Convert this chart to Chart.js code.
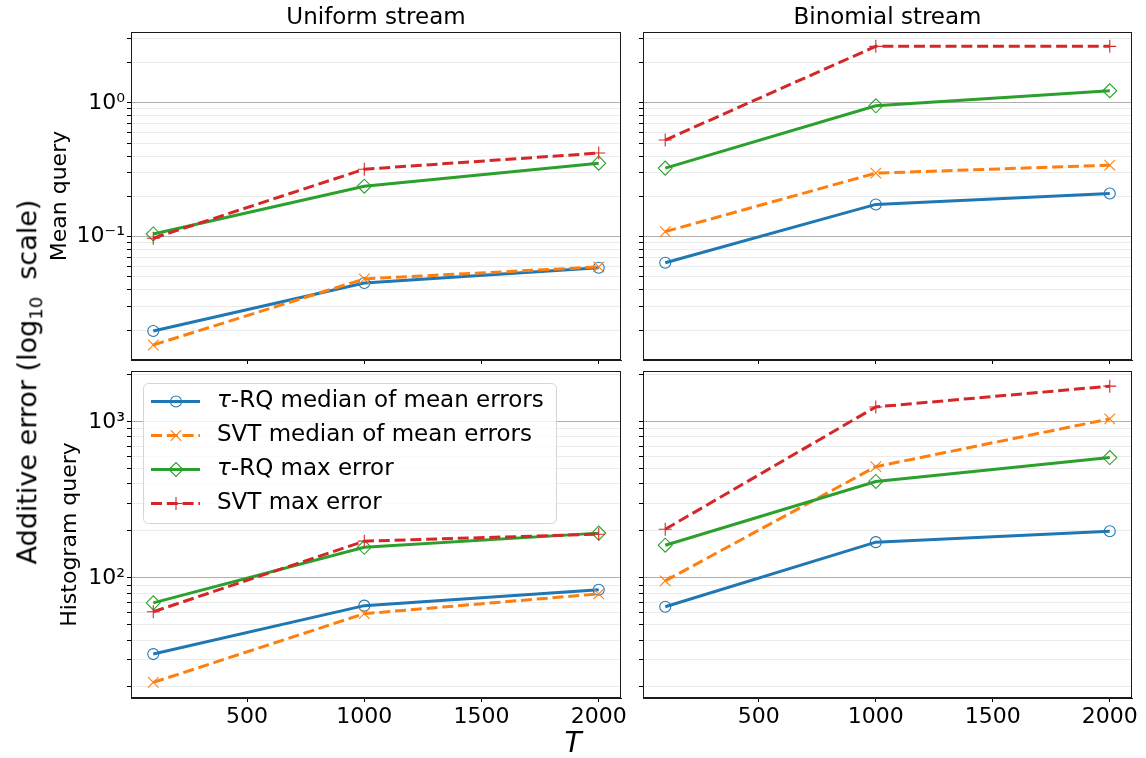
<!DOCTYPE html>
<html lang="en">
<head>
  <meta charset="UTF-8" />
  <title>Additive error vs T</title>
  <script src="https://cdn.jsdelivr.net/npm/chart.js"></script>
  <style>
    body { margin: 0; background: #fff; font-family: 'DejaVu Sans', sans-serif; }
    #fig { position: relative; width: 1146px; height: 758px; overflow: hidden; }
    .cell { position: absolute; }
    .txt { position: absolute; white-space: nowrap; color: #000; }
  </style>
</head>
<body>
  <div id="fig">
    <div class="cell" style="left:41px; top:0px; width:590px; height:370px;"><canvas id="uMean"></canvas></div>
    <div class="cell" style="left:633px; top:0px; width:513px; height:370px;"><canvas id="bMean"></canvas></div>
    <div class="cell" style="left:41px; top:351px; width:590px; height:397px;"><canvas id="uHist"></canvas></div>
    <div class="cell" style="left:633px; top:351px; width:513px; height:397px;"><canvas id="bHist"></canvas></div>
    <div class="txt" style="left:29px; top:382px; font-size:27px; transform:translate(-50%,-50%) rotate(-90deg);">Additive error (log<sub style="font-size:18px">10</sub>&nbsp; scale)</div>
    <div class="txt" style="left:573px; top:742px; font-size:28px; font-style:italic; transform:translate(-50%,-50%);">T</div>
  </div>

  <script>
    const T_VALUES = [100, 1000, 2000];
    const SERIES_LABELS = ['τ-RQ median of mean errors', 'SVT median of mean errors', 'τ-RQ max error', 'SVT max error'];

    // Uniform stream, mean query
    const uniformMeanRqMedian = [0.0197, 0.045, 0.0585];
    const uniformMeanSvtMedian = [0.0155, 0.0483, 0.0594];
    const uniformMeanRqMax = [0.1047, 0.238, 0.354];
    const uniformMeanSvtMax = [0.0973, 0.319, 0.421];

    // Binomial stream, mean query
    const binomialMeanRqMedian = [0.0638, 0.174, 0.21];
    const binomialMeanSvtMedian = [0.109, 0.298, 0.342];
    const binomialMeanRqMax = [0.325, 0.95, 1.23];
    const binomialMeanSvtMax = [0.527, 2.64, 2.64];

    // Uniform stream, histogram query
    const uniformHistRqMedian = [32.5, 66.4, 83.9];
    const uniformHistSvtMedian = [21.4, 59, 79];
    const uniformHistRqMax = [69.2, 157, 193.6];
    const uniformHistSvtMax = [60.7, 172, 190.6];

    // Binomial stream, histogram query
    const binomialHistRqMedian = [65.3, 169.5, 199];
    const binomialHistSvtMedian = [95.7, 516, 1045];
    const binomialHistRqMax = [162, 415, 590];
    const binomialHistSvtMax = [205, 1246, 1693];

    const X_TICKS = [500, 1000, 1500, 2000];
    const MEAN_Y_TICKS = [0.02, 0.03, 0.04, 0.05, 0.06, 0.07, 0.08, 0.09, 0.1, 0.2, 0.3, 0.4, 0.5, 0.6, 0.7, 0.8, 0.9, 1, 2, 3];
    const HIST_Y_TICKS = [20, 30, 40, 50, 60, 70, 80, 90, 100, 200, 300, 400, 500, 600, 700, 800, 900, 1000, 2000];

    const COLORS = ['#1f77b4', '#ff7f0e', '#2ca02c', '#d62728'];
    const FONT = 'DejaVu Sans';
    Chart.defaults.font.family = FONT;
    Chart.defaults.color = '#000';

    const SUP = { '0': '⁰', '1': '¹', '2': '²', '3': '³', '4': '⁴', '5': '⁵', '6': '⁶', '7': '⁷', '8': '⁸', '9': '⁹', '-': '⁻' };
    function isPow10(v) {
      const l = Math.log10(v);
      return Math.abs(l - Math.round(l)) < 1e-9;
    }
    function powLabel(v) {
      const e = String(Math.round(Math.log10(v)));
      return '10' + e.split('').map(c => SUP[c]).join('');
    }

    const styles = [
      { pointStyle: 'circle', pointRadius: 5.5, borderDash: [] },
      { pointStyle: 'crossRot', pointRadius: 7.5, borderDash: [11, 4.8] },
      { pointStyle: 'rectRot', pointRadius: 7, borderDash: [] },
      { pointStyle: 'cross', pointRadius: 6.5, borderDash: [11, 4.8] }
    ];

    function makeDatasets(series) {
      return series.map((vals, i) => ({
        label: SERIES_LABELS[i],
        data: T_VALUES.map((t, j) => ({ x: t, y: vals[j] })),
        borderColor: COLORS[i],
        backgroundColor: COLORS[i],
        borderWidth: 3,
        borderDash: styles[i].borderDash,
        pointStyle: styles[i].pointStyle,
        pointRadius: styles[i].pointRadius,
        pointBorderWidth: 1.1,
        pointBorderColor: COLORS[i],
        pointBackgroundColor: 'rgba(0,0,0,0)',
        order: 3 - i,
        tension: 0
      }));
    }

    // full box round the plot area
    const framePlugin = {
      id: 'frame',
      afterDraw(chart) {
        const { ctx, chartArea: a } = chart;
        ctx.save();
        ctx.strokeStyle = '#1a1a1a';
        ctx.lineWidth = 1;
        ctx.strokeRect(Math.round(a.left) + 0.5, Math.round(a.top) + 0.5, Math.round(a.right - a.left) - 1, Math.round(a.bottom - a.top) - 1);
        ctx.restore();
      }
    };

    // title centred over the plot area (not the canvas)
    const panelTitlePlugin = {
      id: 'panelTitle',
      afterDraw(chart, args, opts) {
        if (!opts.text) return;
        const { ctx, chartArea: a } = chart;
        ctx.save();
        ctx.font = '23px ' + FONT;
        ctx.fillStyle = '#000';
        ctx.textAlign = 'center';
        ctx.textBaseline = 'middle';
        ctx.fillText(opts.text, (a.left + a.right) / 2, a.top - 14);
        ctx.restore();
      }
    };

    // matplotlib-like legend inside the plot area
    const legendBoxPlugin = {
      id: 'legendBox',
      afterDatasetsDraw(chart, args, opts) {
        if (!opts.show) return;
        const { ctx, chartArea } = chart;
        const x0 = chartArea.left + 12, y0 = chartArea.top + 12;
        ctx.save();
        ctx.beginPath();
        ctx.roundRect(x0 + 0.5, y0 + 0.5, 413, 140, 5);
        ctx.fillStyle = 'rgba(255,255,255,0.8)';
        ctx.fill();
        ctx.strokeStyle = '#d5d5d5';
        ctx.lineWidth = 1;
        ctx.stroke();
        chart.data.datasets.forEach((ds, i) => {
          const y = y0 + 18.5 + i * 34;
          ctx.beginPath();
          ctx.setLineDash(ds.borderDash);
          ctx.strokeStyle = ds.borderColor;
          ctx.lineWidth = ds.borderWidth;
          ctx.moveTo(x0 + 8, y);
          ctx.lineTo(x0 + 57, y);
          ctx.stroke();
          ctx.setLineDash([]);
          ctx.fillStyle = 'rgba(0,0,0,0)';
          ctx.lineWidth = ds.pointBorderWidth;
          Chart.helpers.drawPoint(ctx, { pointStyle: ds.pointStyle, radius: ds.pointRadius, borderWidth: ds.pointBorderWidth, rotation: 0 }, x0 + 33, y);
          ctx.fillStyle = '#000';
          ctx.textBaseline = 'middle';
          let tx = x0 + 74;
          let text = ds.label;
          if (text.startsWith('τ')) {
            ctx.font = 'italic 23px ' + FONT;
            ctx.fillText('τ', tx, y);
            tx += ctx.measureText('τ').width;
            text = text.slice(1);
          }
          ctx.font = '23px ' + FONT;
          ctx.fillText(text, tx, y);
        });
        ctx.restore();
      }
    };

    function makeChart(id, cfg) {
      const left = cfg.col === 0;
      const bottom = cfg.row === 1;
      const yTicks = bottom ? HIST_Y_TICKS : MEAN_Y_TICKS;
      return new Chart(document.getElementById(id), {
        type: 'line',
        data: { datasets: makeDatasets(cfg.series) },
        plugins: [framePlugin, panelTitlePlugin, legendBoxPlugin],
        options: {
          responsive: true,
          maintainAspectRatio: false,
          animation: false,
          events: [],
          layout: { padding: { top: bottom ? 20 : 32, right: left ? 10 : 14, left: 0, bottom: 0 } },
          plugins: {
            legend: { display: false },
            tooltip: { enabled: false },
            panelTitle: { text: cfg.title || '' },
            legendBox: { show: !!cfg.legend }
          },
          scales: {
            x: {
              type: 'linear',
              min: 5,
              max: 2095,
              afterBuildTicks: s => { s.ticks = X_TICKS.map(v => ({ value: v })); },
              afterFit: s => { s.height = bottom ? 50 : 10; s.paddingLeft = 0; s.paddingRight = 0; },
              grid: { drawOnChartArea: false, tickLength: 4, tickColor: '#000' },
              border: { color: '#1a1a1a' },
              ticks: {
                autoSkip: false,
                maxRotation: 0,
                padding: 2,
                font: { size: 22 },
                callback: v => bottom ? String(v) : ''
              }
            },
            y: {
              type: 'logarithmic',
              min: bottom ? 17.0 : 0.01197,
              max: bottom ? 2117 : 3.38,
              afterBuildTicks: s => { s.ticks = yTicks.map(v => ({ value: v })); },
              afterFit: s => { s.width = left ? 90 : 10; s.paddingTop = 0; s.paddingBottom = 0; },
              grid: {
                color: c => (c.tick && isPow10(c.tick.value)) ? '#b0b0b0' : '#ebebeb',
                tickColor: '#000',
                tickLength: 4,
                lineWidth: 1
              },
              border: { color: '#1a1a1a' },
              title: {
                display: left,
                text: bottom ? 'Histogram query' : 'Mean query',
                font: { size: 22 },
                padding: { top: bottom ? 16 : 6, bottom: 0 }
              },
              ticks: {
                autoSkip: false,
                padding: 2,
                font: { size: 22 },
                callback: v => (left && isPow10(v)) ? powLabel(v) : ''
              }
            }
          }
        }
      });
    }

    makeChart('uMean', { row: 0, col: 0, title: 'Uniform stream',
      series: [uniformMeanRqMedian, uniformMeanSvtMedian, uniformMeanRqMax, uniformMeanSvtMax] });
    makeChart('bMean', { row: 0, col: 1, title: 'Binomial stream',
      series: [binomialMeanRqMedian, binomialMeanSvtMedian, binomialMeanRqMax, binomialMeanSvtMax] });
    makeChart('uHist', { row: 1, col: 0, legend: true,
      series: [uniformHistRqMedian, uniformHistSvtMedian, uniformHistRqMax, uniformHistSvtMax] });
    makeChart('bHist', { row: 1, col: 1,
      series: [binomialHistRqMedian, binomialHistSvtMedian, binomialHistRqMax, binomialHistSvtMax] });
  </script>
</body>
</html>
